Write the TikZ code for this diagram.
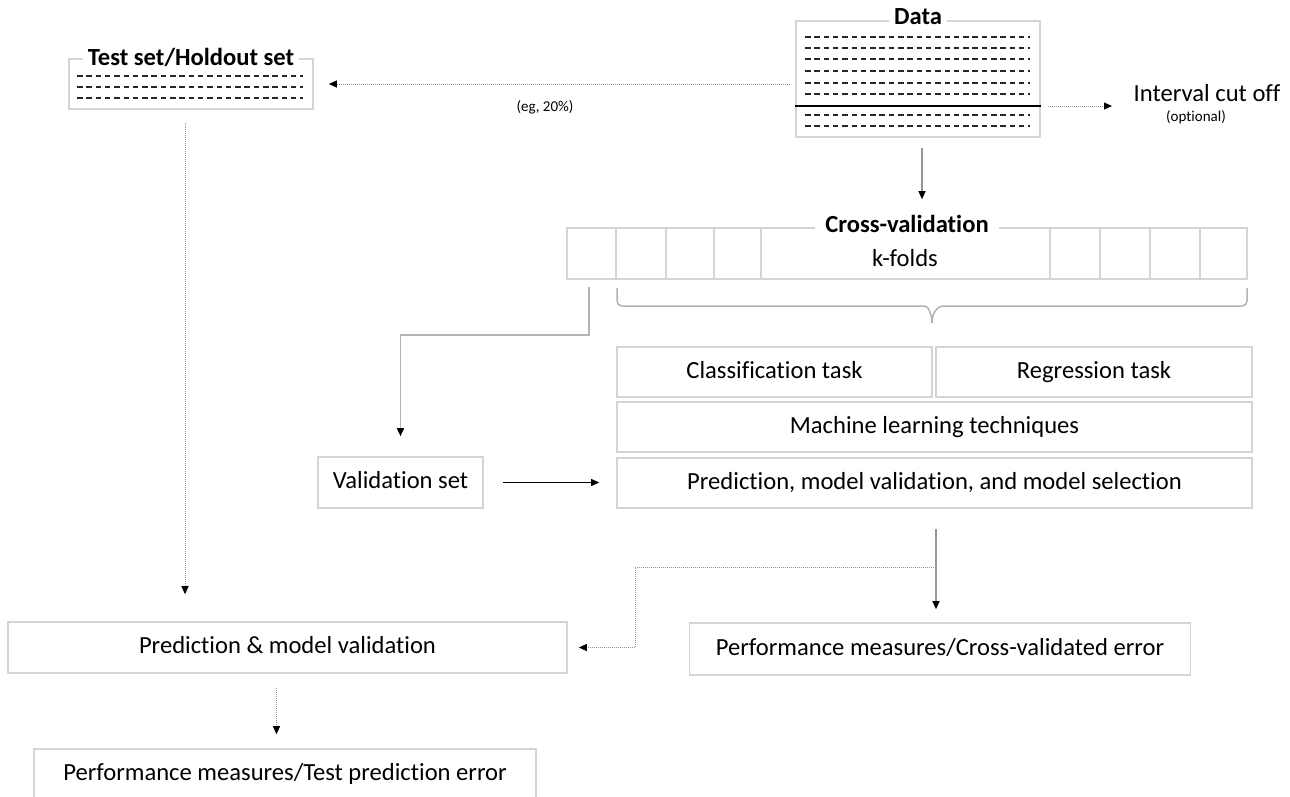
\documentclass[tikz,border=0pt]{standalone}
\usepackage{fontspec}
\setmainfont[Ligatures=NoCommon]{Carlito}
\usetikzlibrary{arrows.meta,calc}

\definecolor{boxgray}{RGB}{212,212,212}
\definecolor{linegray}{RGB}{150,150,150}

\begin{document}
\begin{tikzpicture}[x=1pt,y=-1pt,
    box/.style={draw=boxgray,line width=1.6pt,inner sep=0pt,text height=16pt,text depth=4pt},
    title/.style={fill=white,inner xsep=5pt,inner ysep=1pt,font=\bfseries},
    rowline/.style={black!85,line width=1.1pt,dash pattern=on 5.5pt off 3.8pt},
    arrowtip/.style={-{Triangle[length=8pt,width=7pt,color=black]}},
    dotline/.style={arrowtip,linegray,densely dotted,line width=1pt},
    plainline/.style={arrowtip,linegray,line width=1.1pt},
    grayline/.style={boxgray!85!black,line width=1.5pt},
    small/.style={font=\fontsize{15}{18}\selectfont}]
  \fontsize{24.6}{29.5}\selectfont
  \useasboundingbox (0,0) rectangle (1290,796);

  % data and the held out part
  \node[box,minimum width=244pt,minimum height=50pt] (testset) at (191,84) {};
  \node[title] at ([yshift=1pt]testset.north) {Test set/Holdout set};
  \foreach \y in {76,87,98}
    \draw[rowline] (77,\y) -- (303,\y);

  \node[box,minimum width=244pt,minimum height=116pt] (data) at (918,79) {};
  \node[title] at ([yshift=4pt]data.north) {Data};
  \foreach \y in {37,48,59,71,83,94,115,126}
    \draw[rowline] (805,\y) -- (1030,\y);
  \coordinate (cut) at (918,106);
  \draw[black,line width=2.4pt] (data.west |- cut) -- (data.east |- cut);

  \node (cutoff) at (1207,93) {Interval cut off};
  \node[small] (optional) at (1196,117) {(optional)};
  \coordinate (cutend) at (1112,106);
  \node[small] (share) at (545,107) {(eg, 20\%)};

  % cross-validation
  \node[box,minimum width=680pt,minimum height=51pt] (cv) at (907,253.5) {};
  \foreach \x in {616,666,714,761,1050,1100,1150,1200}
    \draw[boxgray,line width=1.3pt] (\x,228) -- (\x,279);
  \node[title,inner xsep=10pt] at ([yshift=3pt]cv.north) {Cross-validation};
  \node (kfolds) at (905,258) {k-folds};
  \coordinate (fold1) at (589,279);

  \draw[grayline] (617,288) [rounded corners=5pt] -- (617,306) -- (920,306)
    [sharp corners] to[out=0,in=90] (932,323) to[out=90,in=180] (944,306)
    [rounded corners=5pt] -- (1247,306) -- (1247,288);

  \node[box,minimum width=315pt,minimum height=50pt] (classif) at (774.5,372) {Classification task};
  \node[box,minimum width=316pt,minimum height=50pt] (regress) at (1094,372) {Regression task};
  \node[box,minimum width=635pt,minimum height=50pt] (mltech) at (934.5,427) {Machine learning techniques};
  \node[box,minimum width=635pt,minimum height=50pt] (predsel) at (934.5,483) {Prediction, model validation, and model selection};
  \node[box,minimum width=165pt,minimum height=51pt] (valset) at (400.5,482.5) {Validation set};

  % results
  \node[box,minimum width=559pt,minimum height=51pt] (predval) at (287.5,647.5) {Prediction \& model validation};
  \node[box,minimum width=501pt,minimum height=52pt] (perfcv) at (940,649) {Performance measures/Cross-validated error};
  \node[box,minimum width=502pt,minimum height=51pt] (perftest) at (285,774.5) {Performance measures/Test prediction error};
  \coordinate (branch) at (936,567);

  \begin{scope}[arrowtip]
    \draw[dotline,shorten <=5pt,shorten >=15pt] (data.west |- testset) -- (testset.east);
    \draw[dotline,shorten <=7pt] (data.east |- cut) -- (cutend);
    \draw[plainline,shorten <=10pt,shorten >=28pt] ([xshift=4pt]data.south) -- ([xshift=4pt]data.south |- cv.north);
    \draw[grayline,shorten <=8pt,shorten >=20pt] (fold1) -- ++(0,56) -| (valset.north);
    \draw[black,line width=0.8pt,shorten <=19pt,shorten >=17pt] (valset.east) -- (valset.east -| predsel.west);
    \draw[plainline,shorten <=20pt,shorten >=13pt] ([xshift=1.5pt]predsel.south) -- ([xshift=1.5pt]predsel.south |- perfcv.north);
    \draw[dotline,shorten >=11pt] (branch) -- ++(-301,0) |- (predval.east);
    \draw[dotline,shorten <=13pt,shorten >=27pt] ([xshift=-6pt]testset.south) -- ([xshift=-6pt]testset.south |- predval.north);
    \draw[dotline,shorten <=14pt,shorten >=14pt] ([xshift=-11pt]predval.south) -- ([xshift=-11pt]predval.south |- perftest.north);
  \end{scope}
\end{tikzpicture}
\end{document}
